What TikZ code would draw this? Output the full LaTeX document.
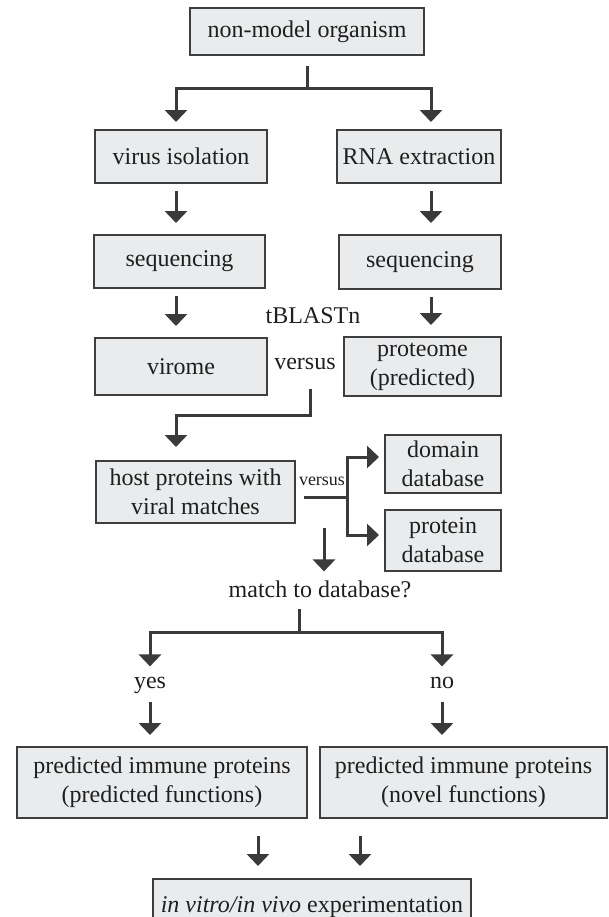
\documentclass[tikz,border=0pt]{standalone}
\usepackage{fontspec}
\setmainfont{Liberation Serif}
\usepackage{xcolor}
\usepackage{tikz}
\usetikzlibrary{arrows.meta, positioning, calc}

\definecolor{boxfill}{RGB}{234,235,236}
\definecolor{boxline}{RGB}{62,62,62}
\definecolor{flowline}{RGB}{58,58,58}

\begin{document}
\begin{tikzpicture}[
        x=0.5pt, y=-0.5pt,
        font=\fontsize{12}{14.5}\selectfont,
        box/.style={rectangle, draw=boxline, fill=boxfill, line width=1pt, align=center, inner sep=2pt, text=black!88},
        lbl/.style={inner sep=1pt, text height=1.6ex, text depth=.4ex, text=black!88},
        conn/.style={line width=1.5pt, draw=flowline},
        arrow/.style={conn, -{Triangle[width=11pt, length=6pt]}},
        down/.style={arrow, shorten <=3.5pt, shorten >=5.5pt},
    ]
        \useasboundingbox (0,0) rectangle (609,917);

        % Boxes
        \node[box, minimum width=117pt, minimum height=23.5pt] (org) at (307,31.5) {non-model organism};
        \node[box, minimum width=86pt, minimum height=26.5pt] (viso) at (181,156.5) {virus isolation};
        \node[box, minimum width=82pt, minimum height=26.5pt] (rna) at (419,156.5) {RNA extraction};
        \node[box, minimum width=85.5pt, minimum height=26.5pt] (seqL) at (179.5,261.5) {sequencing};
        \node[box, minimum width=81pt, minimum height=27pt] (seqR) at (420,262) {sequencing};
        \node[box, minimum width=86pt, minimum height=28.5pt] (virome) at (181,366.5) {virome};
        \node[box, minimum width=78.5pt, minimum height=29.5pt] (prot) at (422.5,366.5) {proteome\\(predicted)};
        \node[box, minimum width=99.5pt, minimum height=31pt] (host) at (195.5,492) {host proteins with\\viral matches};
        \node[box, minimum width=58pt, minimum height=29pt] (dom) at (443,464) {domain\\database};
        \node[box, minimum width=58pt, minimum height=30.5pt] (pdb) at (443,540.5) {protein\\database};
        \node[box, minimum width=145pt, minimum height=35.5pt] (predF) at (162,782.5) {predicted immune proteins\\(predicted functions)};
        \node[box, minimum width=143.5pt, minimum height=35.5pt] (novel) at (463.5,782.5) {predicted immune proteins\\(novel functions)};
        \node[box, minimum width=159pt, minimum height=28pt] (exper) at (312,907) {\textit{in vitro/in vivo} experimentation};

        % Labels
        \node[lbl] (blast) at (313,318) {tBLASTn};
        \node[lbl] (vs) at (305,364) {versus};
        \node[lbl, font=\fontsize{9}{10}\selectfont] (vsdb) at (322,480) {versus};
        \node[lbl] (match) at (320,592) {match to database?};
        \node[lbl] (yes) at (150,683) {yes};
        \node[lbl] (no) at (442,683) {no};

        % Guide coordinates
        \coordinate (fork1) at (307,88);
        \coordinate (colL) at (176,0);
        \coordinate (colR) at (431,0);
        \coordinate (bend) at (310,415);
        \coordinate (fork2) at (347,497);
        \coordinate (qarrow) at (324,528);
        \coordinate (fork3) at (299,632);
        \coordinate (inL) at (258,0);
        \coordinate (inR) at (360,0);

        % Connectors
        \draw[conn, shorten <=5pt] (org.south) -- (fork1);
        \draw[arrow, shorten >=3.5pt] (fork1) -| (colL |- viso.north);
        \draw[arrow, shorten >=3.5pt] (fork1) -| (colR |- rna.north);
        \draw[down] (colL |- viso.south) -- (colL |- seqL.north);
        \draw[down] (colR |- rna.south) -- (colR |- seqR.north);
        \draw[down] (colL |- seqL.south) -- (colL |- virome.north);
        \draw[down] (colR |- seqR.south) -- (colR |- prot.north);
        \draw[arrow, shorten <=6.5pt, shorten >=6.5pt] (bend |- vs.south) -- (bend) -| (colL |- host.north);
        \draw[conn, shorten <=4pt] (host.east |- fork2) -- (fork2);
        \draw[arrow, shorten >=2.5pt] (fork2) |- ([yshift=3.5pt]dom.west);
        \draw[arrow, shorten >=2.5pt] (fork2) |- ([yshift=2.75pt]pdb.west);
        \draw[arrow, shorten >=4.5pt] (qarrow) -- (qarrow |- match.north);
        \draw[conn, shorten <=2.5pt] (fork3 |- match.south) -- (fork3);
        \draw[arrow, shorten >=2.5pt] (fork3) -| (yes.north);
        \draw[arrow, shorten >=2.5pt] (fork3) -| (no.north);
        \draw[down] (yes.south) -- (yes.south |- predF.north);
        \draw[down] (no.south) -- (no.south |- novel.north);
        \draw[arrow, shorten <=8.5pt, shorten >=6pt] (inL |- predF.south) -- (inL |- exper.north);
        \draw[arrow, shorten <=8.5pt, shorten >=6pt] (inR |- novel.south) -- (inR |- exper.north);
    \end{tikzpicture}
\end{document}
